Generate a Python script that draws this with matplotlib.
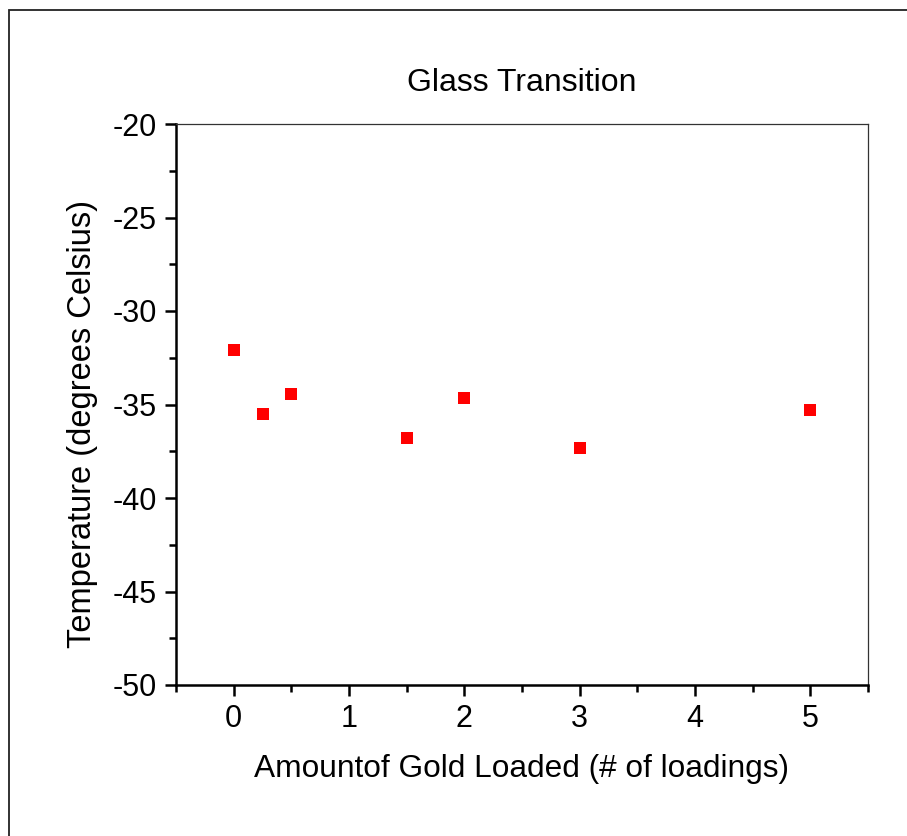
import matplotlib
matplotlib.use("Agg")
import matplotlib.pyplot as plt
from matplotlib.ticker import MultipleLocator
from matplotlib.patches import Rectangle

plt.rcParams['font.family'] = ['Liberation Sans', 'DejaVu Sans']
plt.rcParams['axes.unicode_minus'] = False

# Glass transition temperature vs. number of gold loadings
loadings = [0, 0.25, 0.5, 1.5, 2, 3, 5]
temperature = [-32.1, -35.5, -34.45, -36.8, -34.65, -37.3, -35.3]

fig = plt.figure(figsize=(9.07, 8.36), dpi=100)
ax = fig.add_axes([176/907, 1 - 685/836, (868-176)/907, (685-124)/836])

# outer frame around the graph page
fig.patches.append(Rectangle((9/907, -0.01), 1.05, 1 - 10/836 + 0.01,
                             transform=fig.transFigure, fill=False,
                             edgecolor='#222222', linewidth=1.3))

ax.plot(loadings, temperature, linestyle='none', marker='s',
        markersize=8.0, color='#ff0000', markeredgewidth=0)

ax.set_xlim(-0.5, 5.5)
ax.set_ylim(-50, -20)
ax.xaxis.set_major_locator(MultipleLocator(1))
ax.xaxis.set_minor_locator(MultipleLocator(0.5))
ax.yaxis.set_major_locator(MultipleLocator(5))
ax.yaxis.set_minor_locator(MultipleLocator(2.5))

ax.tick_params(which='both', direction='out', top=False, right=False,
               width=1.8, color='black')
ax.tick_params(which='major', length=8, labelsize=22, pad=6)
ax.tick_params(which='minor', length=5)

for side in ('left', 'bottom'):
    ax.spines[side].set_linewidth(1.8)
for side in ('top', 'right'):
    ax.spines[side].set_linewidth(0.9)
    ax.spines[side].set_color('#333333')

ax.set_title('Glass Transition', fontsize=23, pad=24)
ax.set_xlabel('Amountof Gold Loaded (# of loadings)', fontsize=22.8, labelpad=14)
ax.set_ylabel('Temperature (degrees Celsius)', fontsize=23.5)
ax.yaxis.set_label_coords(-0.113, 0.465)

fig.savefig('out.png', dpi=100)
